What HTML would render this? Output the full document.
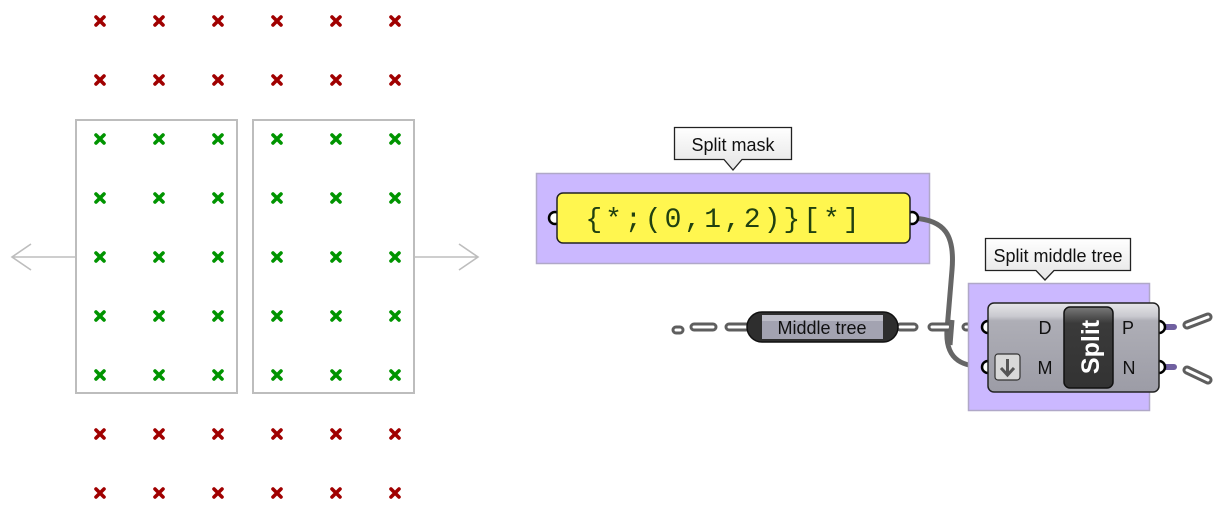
<!DOCTYPE html>
<html><head><meta charset="utf-8"><style>
html,body{margin:0;padding:0;background:#fff;}
svg{display:block;}
text{font-family:"Liberation Sans","DejaVu Sans",sans-serif;}
</style></head><body>
<svg width="1221" height="529" viewBox="0 0 1221 529" xmlns="http://www.w3.org/2000/svg">
<defs>
<symbol id="xr" viewBox="-6 -6 12 12"><path d="M-4,-4L4,4M4,-4L-4,4" stroke="#a00000" stroke-width="3.6" stroke-linecap="round"/></symbol>
<symbol id="xg" viewBox="-6 -6 12 12"><path d="M-4,-4L4,4M4,-4L-4,4" stroke="#009400" stroke-width="3.6" stroke-linecap="round"/></symbol>
<linearGradient id="cg" x1="0" y1="0" x2="0" y2="1"><stop offset="0" stop-color="#e6e6e9"/><stop offset="0.15" stop-color="#c9c9cf"/><stop offset="0.2" stop-color="#aeaeb6"/><stop offset="1" stop-color="#9c9ca6"/></linearGradient>
<linearGradient id="dg" x1="0" y1="0" x2="0" y2="1"><stop offset="0" stop-color="#7a7a7a"/><stop offset="0.2" stop-color="#3a3a3a"/><stop offset="1" stop-color="#333"/></linearGradient>
<linearGradient id="tg" x1="0" y1="0" x2="0" y2="1"><stop offset="0" stop-color="#fff"/><stop offset="1" stop-color="#e4e4e4"/></linearGradient>
</defs>
<rect x="76" y="120" width="161" height="273" fill="none" stroke="#bdbdbd" stroke-width="2"/>
<rect x="253" y="120" width="161" height="273" fill="none" stroke="#bdbdbd" stroke-width="2"/>
<path d="M76,257H12M31,244L12,257L31,270" fill="none" stroke="#bdbdbd" stroke-width="1.6"/>
<path d="M414,257H478M459,244L478,257L459,270" fill="none" stroke="#bdbdbd" stroke-width="1.6"/>
<!-- split mask group -->
<rect x="536.5" y="173.5" width="393" height="90" fill="#cbb8ff" stroke="#b0a8c8" stroke-width="1.5"/>
<!-- wires -->
<path d="M913,218 C945,220 955,235 952,270 L947,330 C945,362 965,367 988,367" fill="none" stroke="#666" stroke-width="5"/>
<g fill="none" stroke-linecap="round">
<path d="M676,330H680 M694,327H713 M729,327H748 M900,327H914 M932,327H948 M966,327H986" stroke="#5e5e5e" stroke-width="9"/>
<path d="M676,330H680 M694,327H713 M729,327H748 M900,327H914 M932,327H948 M966,327H986" stroke="#fff" stroke-width="3"/>
<path d="M1187,325L1208,317 M1187,370L1208,380" stroke="#5e5e5e" stroke-width="9"/>
<path d="M1187,325L1208,317 M1187,370L1208,380" stroke="#fff" stroke-width="3"/>
<path d="M1160,327H1174 M1160,367H1174" stroke="#7060a0" stroke-width="6"/>
</g>
<path d="M674.5,127.5H791.5V159.5H742L733,170L724,159.5H674.5Z" fill="url(#tg)" stroke="#222" stroke-width="1.3"/>
<text x="733" y="151" font-size="18" text-anchor="middle" fill="#111">Split mask</text>
<circle cx="555" cy="218" r="6" fill="#fff" stroke="#000" stroke-width="2.5"/>
<circle cx="912" cy="218" r="6" fill="#fff" stroke="#000" stroke-width="2.5"/>
<rect x="557" y="193" width="353" height="50" rx="6" fill="#fff64f" stroke="#222" stroke-width="1.5"/>
<text x="724" y="227" font-size="28" text-anchor="middle" fill="#204010" style="font-family:'Liberation Mono',monospace" letter-spacing="3">{*;(0,1,2)}[*]</text>
<!-- middle tree -->
<rect x="747" y="312" width="151" height="30" rx="15" fill="#2e2e2e" stroke="#111" stroke-width="1.5"/>
<rect x="762" y="315" width="121" height="24" fill="#a3a3b1"/>
<rect x="762" y="315" width="121" height="6" fill="#bdbdc8"/>
<text x="822" y="334" font-size="18" text-anchor="middle" fill="#111">Middle tree</text>
<!-- split group -->
<rect x="968.5" y="283.5" width="181" height="127" fill="#cbb8ff" stroke="#b0a8c8" stroke-width="1.5"/>
<path d="M968.5,283.5V410.5" stroke="#b0a8c8"/>
<path d="M985.5,238.5H1130.5V270.5H1054L1045,280L1036,270.5H985.5Z" fill="url(#tg)" stroke="#222" stroke-width="1.3"/>
<text x="1058" y="262" font-size="18" text-anchor="middle" fill="#111">Split middle tree</text>
<path d="M952,320 L950,345" stroke="#666" stroke-width="5" fill="none"/>
<circle cx="988" cy="327" r="6" fill="#fff" stroke="#000" stroke-width="2.5"/>
<circle cx="988" cy="367" r="6" fill="#fff" stroke="#000" stroke-width="2.5"/>
<circle cx="1159" cy="327" r="6" fill="#fff" stroke="#000" stroke-width="2.5"/>
<circle cx="1159" cy="367" r="6" fill="#fff" stroke="#000" stroke-width="2.5"/>
<rect x="988" y="303" width="171" height="89" rx="6" fill="url(#cg)" stroke="#222" stroke-width="1.5"/>
<rect x="1064" y="307" width="49" height="81" rx="6" fill="url(#dg)" stroke="#111" stroke-width="1.5"/>
<text transform="translate(1099,347) rotate(-90)" font-size="25" font-weight="bold" text-anchor="middle" fill="#fff">Split</text>
<text x="1045" y="334" font-size="18" text-anchor="middle" fill="#111">D</text>
<text x="1045" y="374" font-size="18" text-anchor="middle" fill="#111">M</text>
<text x="1128" y="334" font-size="18" text-anchor="middle" fill="#111">P</text>
<text x="1129" y="374" font-size="18" text-anchor="middle" fill="#111">N</text>
<rect x="995" y="354" width="25" height="26" rx="3" fill="#d8d8d8" stroke="#333" stroke-width="1.2"/>
<path d="M1007.5,359V375M1001,368L1007.5,375L1014,368" fill="none" stroke="#555" stroke-width="3"/>
<g>
<use href="#xr" x="94" y="15" width="12" height="12"/><use href="#xr" x="153" y="15" width="12" height="12"/><use href="#xr" x="212" y="15" width="12" height="12"/><use href="#xr" x="271" y="15" width="12" height="12"/><use href="#xr" x="330" y="15" width="12" height="12"/><use href="#xr" x="389" y="15" width="12" height="12"/>
<use href="#xr" x="94" y="74" width="12" height="12"/><use href="#xr" x="153" y="74" width="12" height="12"/><use href="#xr" x="212" y="74" width="12" height="12"/><use href="#xr" x="271" y="74" width="12" height="12"/><use href="#xr" x="330" y="74" width="12" height="12"/><use href="#xr" x="389" y="74" width="12" height="12"/>
<use href="#xg" x="94" y="133" width="12" height="12"/><use href="#xg" x="153" y="133" width="12" height="12"/><use href="#xg" x="212" y="133" width="12" height="12"/><use href="#xg" x="271" y="133" width="12" height="12"/><use href="#xg" x="330" y="133" width="12" height="12"/><use href="#xg" x="389" y="133" width="12" height="12"/>
<use href="#xg" x="94" y="192" width="12" height="12"/><use href="#xg" x="153" y="192" width="12" height="12"/><use href="#xg" x="212" y="192" width="12" height="12"/><use href="#xg" x="271" y="192" width="12" height="12"/><use href="#xg" x="330" y="192" width="12" height="12"/><use href="#xg" x="389" y="192" width="12" height="12"/>
<use href="#xg" x="94" y="251" width="12" height="12"/><use href="#xg" x="153" y="251" width="12" height="12"/><use href="#xg" x="212" y="251" width="12" height="12"/><use href="#xg" x="271" y="251" width="12" height="12"/><use href="#xg" x="330" y="251" width="12" height="12"/><use href="#xg" x="389" y="251" width="12" height="12"/>
<use href="#xg" x="94" y="310" width="12" height="12"/><use href="#xg" x="153" y="310" width="12" height="12"/><use href="#xg" x="212" y="310" width="12" height="12"/><use href="#xg" x="271" y="310" width="12" height="12"/><use href="#xg" x="330" y="310" width="12" height="12"/><use href="#xg" x="389" y="310" width="12" height="12"/>
<use href="#xg" x="94" y="369" width="12" height="12"/><use href="#xg" x="153" y="369" width="12" height="12"/><use href="#xg" x="212" y="369" width="12" height="12"/><use href="#xg" x="271" y="369" width="12" height="12"/><use href="#xg" x="330" y="369" width="12" height="12"/><use href="#xg" x="389" y="369" width="12" height="12"/>
<use href="#xr" x="94" y="428" width="12" height="12"/><use href="#xr" x="153" y="428" width="12" height="12"/><use href="#xr" x="212" y="428" width="12" height="12"/><use href="#xr" x="271" y="428" width="12" height="12"/><use href="#xr" x="330" y="428" width="12" height="12"/><use href="#xr" x="389" y="428" width="12" height="12"/>
<use href="#xr" x="94" y="487" width="12" height="12"/><use href="#xr" x="153" y="487" width="12" height="12"/><use href="#xr" x="212" y="487" width="12" height="12"/><use href="#xr" x="271" y="487" width="12" height="12"/><use href="#xr" x="330" y="487" width="12" height="12"/><use href="#xr" x="389" y="487" width="12" height="12"/>
</g>
</svg>
</body></html>
